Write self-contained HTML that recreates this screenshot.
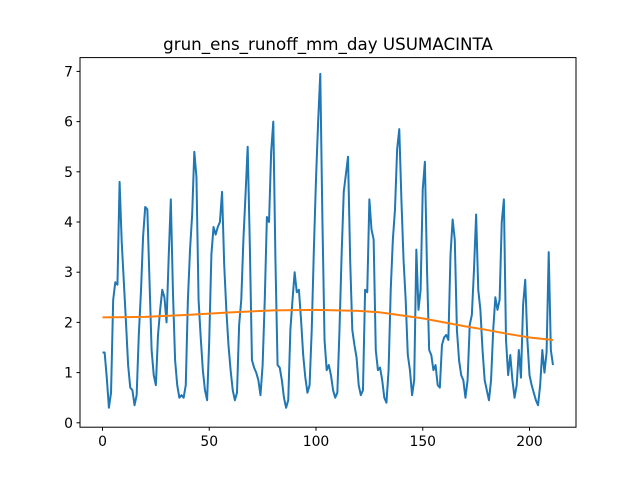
<!DOCTYPE html>
<html><head><meta charset="utf-8"><style>
body{margin:0;background:#fff;}
svg text{font-family:"DejaVu Sans","Liberation Sans",sans-serif;fill:#000;}
</style></head><body>
<svg id="chart" width="640" height="480">
<rect width="640" height="480" fill="#fff"/>
<text x="328" y="50" font-size="16.7" text-anchor="middle">grun_ens_runoff_mm_day USUMACINTA</text>
<g id="ticks"></g>
<g id="series"></g>
<rect x="80" y="57.6" width="496" height="369.6" fill="none" stroke="#000" stroke-width="1"/>
</svg>
<script>
const runoffValues=[1.4,1.4,0.9,0.3,0.6,2.45,2.8,2.75,4.8,3.6,2.8,
2.0,1.15,0.7,0.65,0.35,0.55,1.75,2.6,3.7,4.3,
4.25,2.85,1.45,0.95,0.75,1.75,2.25,2.65,2.5,2.0,3.3,
4.45,2.6,1.25,0.75,0.5,0.55,0.5,0.75,2.45,3.45,4.15,
5.4,4.9,2.45,1.7,1.05,0.65,0.45,1.65,3.35,
3.9,3.75,3.9,4.0,4.6,3.15,2.25,1.55,1.05,0.65,
0.45,0.6,1.95,2.45,3.65,4.55,5.5,3.55,1.25,1.1,
1.0,0.85,0.55,1.15,2.45,4.1,4.0,5.4,6.0,
3.25,1.15,1.1,0.85,0.5,0.3,0.45,1.85,2.45,
3.0,2.6,2.65,2.05,1.35,0.9,0.6,0.75,1.85,3.45,
4.85,6.0,6.95,4.05,1.65,1.05,1.15,0.95,0.65,0.5,
0.6,1.85,3.35,4.6,4.95,5.3,3.25,1.85,1.55,1.3,
0.75,0.55,0.65,2.65,2.6,4.45,3.85,3.65,1.45,1.05,
1.1,0.85,0.5,0.4,1.05,2.65,3.65,4.25,5.45,5.85,
4.45,3.25,2.45,1.35,1.05,0.55,0.85,3.45,2.25,2.65,
4.65,5.2,3.05,1.45,1.35,1.05,1.15,0.75,0.7,1.55,
1.7,1.75,1.65,3.35,4.05,3.65,1.85,1.25,0.95,0.85,
0.5,0.85,1.95,2.15,3.05,4.15,2.65,2.25,1.45,0.85,
0.65,0.45,0.85,1.85,2.5,2.25,2.45,4.0,4.45,
1.65,0.95,1.35,0.85,0.5,0.75,1.45,0.9,2.35,
2.85,1.65,0.95,0.75,0.6,0.45,0.35,0.75,1.45,1.0,
1.4,3.4,1.45,1.15];
const trendX=[0,20,40,60,80,100,120,130,140,150,160,170,180,190,200,211];
const trendY=[2.1,2.11,2.15,2.2,2.24,2.25,2.23,2.2,2.14,2.08,2.0,1.92,1.85,1.77,1.7,1.65];
const xTicks=[0,50,100,150,200];
const yTicks=[0,1,2,3,4,5,6,7];

const NS="http://www.w3.org/2000/svg";
function xs(i){return 102.5+i*2.135;}
function ys(v){return 422.8-v*50.2;}
const tg=document.getElementById('ticks');
xTicks.forEach(t=>{
  const l=document.createElementNS(NS,'line');
  l.setAttribute('x1',xs(t));l.setAttribute('x2',xs(t));l.setAttribute('y1',427.2);l.setAttribute('y2',430.7);l.setAttribute('stroke','#000');
  
  
  tg.appendChild(l);
  const tx=document.createElementNS(NS,'text');
  tx.setAttribute('x',xs(t));tx.setAttribute('y',446);tx.setAttribute('font-size','13.9');tx.setAttribute('text-anchor','middle');
  tx.textContent=t;
  
  
  tg.appendChild(tx);
});
yTicks.forEach(t=>{
  const l=document.createElementNS(NS,'line');
  l.setAttribute('x1',76.5);l.setAttribute('x2',80);l.setAttribute('y1',ys(t));l.setAttribute('y2',ys(t));l.setAttribute('stroke','#000');
  
  
  tg.appendChild(l);
  const tx=document.createElementNS(NS,'text');
  tx.setAttribute('x',73);tx.setAttribute('y',ys(t)+5);tx.setAttribute('font-size','13.9');tx.setAttribute('text-anchor','end');
  tx.textContent=t;
  
  
  tg.appendChild(tx);
});
const sg=document.getElementById('series');
const p1=document.createElementNS(NS,'polyline');
p1.setAttribute('points',runoffValues.map((v,i)=>xs(i)+','+ys(v)).join(' '));
p1.setAttribute('fill','none');p1.setAttribute('stroke','#1f77b4');p1.setAttribute('stroke-width','2');p1.setAttribute('stroke-linejoin','round');


sg.appendChild(p1);
const p2=document.createElementNS(NS,'polyline');
p2.setAttribute('points',trendX.map((x,i)=>xs(x)+','+ys(trendY[i])).join(' '));
p2.setAttribute('fill','none');p2.setAttribute('stroke','#ff7f0e');p2.setAttribute('stroke-width','2');


sg.appendChild(p2);
</script>
</body></html>
